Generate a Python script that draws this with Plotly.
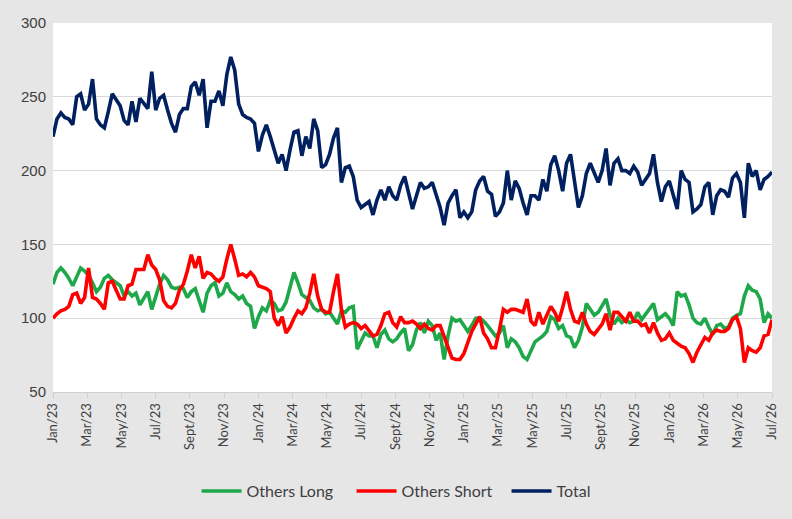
import plotly.graph_objects as go
import numpy as np

tick_labels = ["Jan/23", "Mar/23", "May/23", "Jul/23", "Sept/23", "Nov/23",
               "Jan/24", "Mar/24", "May/24", "Jul/24", "Sept/24", "Nov/24",
               "Jan/25", "Mar/25", "May/25", "Jul/25", "Sept/25", "Nov/25",
               "Jan/26", "Mar/26", "May/26", "Jul/26"]

total = [
    223, 235, 239, 236, 235, 231, 250, 252, 241, 245,
    262, 235, 231, 229, 240, 252, 248, 244, 234, 231,
    247, 233, 249, 245, 242, 267, 241, 249, 251, 241,
    232, 226, 238, 242, 242, 257, 260, 251, 262, 229,
    247, 247, 254, 244, 265, 277, 268, 245, 238, 236,
    235, 232, 213, 224, 231, 223, 214, 205, 211, 200,
    214, 226, 227, 210, 223, 215, 235, 227, 202, 204,
    211, 222, 229, 192, 202, 203, 196, 180, 175, 177,
    179, 170, 180, 187, 180, 189, 183, 180, 190, 196,
    186, 174, 183, 192, 188, 189, 192, 184, 175, 163,
    178, 183, 187, 168, 172, 168, 172, 187, 193, 196,
    186, 184, 169, 172, 178, 200, 180, 193, 188, 178,
    170, 183, 183, 180, 194, 186, 204, 210, 200, 186,
    205, 211, 194, 175, 183, 198, 205, 198, 192, 200,
    215, 190, 205, 208, 200, 200, 198, 203, 199, 190,
    194, 198, 211, 192, 179, 189, 193, 183, 174, 200,
    194, 192, 172, 174, 177, 189, 192, 170, 183, 187,
    186, 182, 195, 198, 192, 168, 205, 196, 200, 187,
    194, 196, 199]

others_long = [
    123, 131, 134, 131, 127, 122, 128, 134, 132, 129,
    124, 118, 121, 127, 129, 126, 124, 122, 115, 118,
    115, 117, 109, 113, 118, 106, 115, 123, 129, 126,
    121, 120, 121, 120, 114, 118, 120, 112, 104, 117,
    122, 124, 115, 117, 124, 118, 116, 113, 115, 110,
    108, 93, 101, 107, 105, 112, 110, 105, 106, 111,
    122, 131, 124, 116, 114, 112, 107, 105, 106, 103,
    104, 100, 96, 105, 104, 107, 108, 79, 84, 90,
    88, 88, 80, 89, 92, 86, 84, 86, 90, 93,
    78, 82, 92, 97, 90, 98, 95, 85, 90, 72,
    88, 100, 98, 99, 95, 91, 95, 100, 100, 98,
    95, 91, 88, 90, 95, 80, 86, 84, 80, 74,
    72, 78, 84, 86, 88, 91, 101, 99, 93, 95,
    88, 87, 80, 85, 94, 110, 106, 102, 104, 109,
    113, 102, 96, 100, 97, 99, 97, 98, 104, 99,
    103, 107, 110, 99, 101, 103, 100, 95, 118, 115,
    116, 109, 100, 97, 96, 100, 94, 89, 95, 96,
    93, 94, 100, 102, 103, 115, 122, 119, 118, 113,
    97, 103, 100]

others_short = [
    100, 103, 105, 106, 108, 116, 117, 110, 114, 134,
    114, 113, 110, 106, 124, 125, 119, 113, 113, 122,
    123, 133, 133, 133, 143, 136, 133, 126, 112, 108,
    107, 110, 119, 123, 132, 143, 134, 142, 127, 131,
    130, 127, 125, 128, 140, 150, 140, 129, 130, 128,
    131, 128, 122, 121, 120, 118, 100, 95, 101, 90,
    94, 100, 105, 103, 107, 117, 130, 115, 106, 104,
    104, 118, 130, 106, 94, 96, 97, 96, 93, 95,
    91, 88, 89, 95, 103, 104, 97, 94, 101, 97,
    97, 98, 96, 93, 96, 93, 92, 95, 95, 88,
    80, 73, 72, 72, 76, 83, 91, 96, 101, 90,
    86, 80, 80, 92, 106, 104, 106, 106, 105, 104,
    113, 98, 95, 104, 96, 102, 108, 104, 98, 107,
    118, 106, 98, 97, 104, 96, 91, 89, 93, 96,
    103, 92, 104, 104, 101, 98, 104, 98, 98, 95,
    96, 90, 97, 90, 85, 86, 90, 85, 83, 81,
    80, 76, 70, 77, 82, 87, 85, 90, 92, 91,
    91, 93, 99, 101, 93, 70, 80, 78, 77, 80,
    88, 89, 99]

n = len(total)
x = list(range(n))
tickvals = list(np.linspace(0, n - 1, len(tick_labels)))

fig = go.Figure()
fig.add_trace(go.Scatter(x=x, y=others_long, name="Others Long", mode="lines",
                         line=dict(color="#1ea84a", width=3.6)))
fig.add_trace(go.Scatter(x=x, y=others_short, name="Others Short", mode="lines",
                         line=dict(color="#ff0000", width=3.6)))
fig.add_trace(go.Scatter(x=x, y=total, name="Total", mode="lines",
                         line=dict(color="#002060", width=3.6)))

fig.update_layout(
    width=792, height=519,
    margin=dict(l=53, r=20, t=23, b=126),
    paper_bgcolor="#e6e6e6",
    plot_bgcolor="#ffffff",
    font=dict(family="Lato, 'Liberation Sans', Arial, sans-serif", color="#404040"),
    showlegend=True,
    legend=dict(orientation="h", x=0.523, xanchor="center", y=-0.265, yanchor="middle",
                font=dict(size=16, color="#404040"), bgcolor="rgba(0,0,0,0)",
                itemwidth=40, tracegroupgap=0,
                entrywidth=100, entrywidthmode="pixels"),
    xaxis=dict(range=[0, n - 1], tickmode="array", tickvals=tickvals, ticktext=tick_labels,
               tickangle=-90, tickfont=dict(size=13, color="#404040"),
               showgrid=False, zeroline=False, showline=True, linecolor="#d0d0d0",
               linewidth=1, ticks="outside", ticklen=5, tickcolor="#d0d0d0"),
    yaxis=dict(range=[50, 300], tickmode="linear", tick0=50, dtick=50,
               tickfont=dict(size=15, color="#404040",
                             family="'Liberation Sans', Arial, sans-serif"),
               showgrid=True, gridcolor="#d9d9d9", gridwidth=1.3, zeroline=False,
               showline=False, ticks="", ticklabelstandoff=6),
)

fig.write_html("out.html",
               config={"displayModeBar": False},
               post_script="document.body.style.margin='0';"
                           "document.body.style.background='#e6e6e6';")
